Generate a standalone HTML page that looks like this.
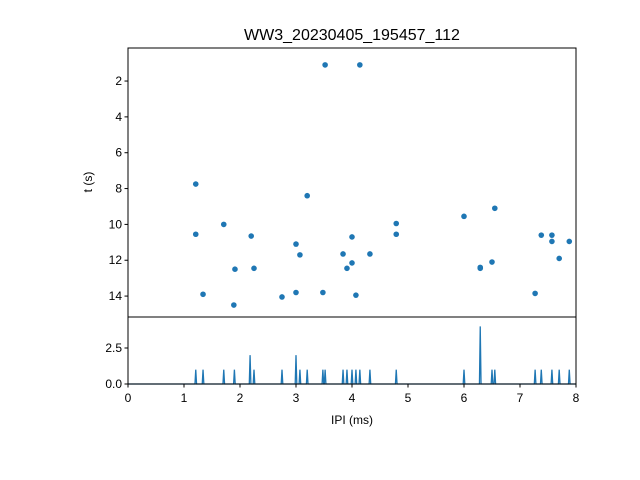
<!DOCTYPE html>
<html><head><meta charset="utf-8"><style>
body{margin:0;background:#fff;}
svg{display:block;font-family:"Liberation Sans","DejaVu Sans",sans-serif;}
</style></head><body>
<svg id="chart" width="640" height="480">
<rect width="640" height="480" fill="#fff"/>
<text x="352" y="40" font-size="16" text-anchor="middle">WW3_20230405_195457_112</text>
<g id="gtop"></g><g id="gbot"></g>
<text x="352" y="424" font-size="12" text-anchor="middle">IPI (ms)</text>
<text transform="translate(92,182) rotate(-90)" font-size="12" text-anchor="middle">t (s)</text>
</svg>
<script>
const ipi=[1.21,1.21,1.34,1.71,1.91,1.89,2.2,2.25,2.75,3.0,3.07,3.0,3.2,3.52,4.14,3.48,3.84,3.91,4.0,4.0,4.07,4.32,4.79,4.79,6.0,6.29,6.29,6.5,6.55,7.27,7.38,7.57,7.57,7.7,7.88];
const times=[7.75,10.55,13.9,10.0,12.5,14.5,10.65,12.45,14.05,11.1,11.7,13.8,8.4,1.1,1.1,13.8,11.65,12.45,10.7,12.15,13.95,11.65,9.95,10.55,9.55,12.4,12.45,12.1,9.1,13.85,10.6,10.6,10.95,11.9,10.95];
const peakX=[1.21,1.34,1.71,1.9,2.18,2.25,2.75,3.0,3.07,3.2,3.48,3.52,3.84,3.91,4.0,4.07,4.14,4.32,4.79,6.0,6.29,6.5,6.55,7.27,7.38,7.57,7.7,7.88];
const peakCount=[1,1,1,1,2,1,1,2,1,1,1,1,1,1,1,1,1,1,1,1,4,1,1,1,1,1,1,1];
const xTicks=[0,1,2,3,4,5,6,7,8];
const tTicks=[2,4,6,8,10,12,14];
const hTicks=[0,2.5];
const NS="http://www.w3.org/2000/svg";
const L=128,R=576,T1=48,B1=317,T2=317,B2=384;
const xs=v=>L+v*(R-L)/8;
const ts=v=>45.2+v*17.92;
const hs=v=>B2-v*14.4;
function mk(p,tag,a){const e=document.createElementNS(NS,tag);for(const k in a)e.setAttribute(k,a[k]);p.appendChild(e);return e;}
const gTop=document.getElementById('gtop'),gBot=document.getElementById('gbot');
ipi.forEach((v,i)=>{const c=mk(gTop,'circle',{cx:xs(v),cy:ts(times[i]),r:2.8,fill:'#1f77b4'});

});
let d='M'+L+','+B2;
peakX.forEach((v,i)=>{const x=xs(v);d+=' L'+(x-0.8)+','+B2+' L'+x+','+hs(peakCount[i])+' L'+(x+0.8)+','+B2;});
d+=' L'+R+','+B2;
const hp=mk(gBot,'path',{d:d,fill:'none',stroke:'#1f77b4','stroke-width':1.3});


const f1=mk(gTop,'rect',{x:L,y:T1,width:R-L,height:B1-T1,fill:'none',stroke:'#000','stroke-width':1});


const f2=mk(gBot,'rect',{x:L,y:T2,width:R-L,height:B2-T2,fill:'none',stroke:'#000','stroke-width':1});


tTicks.forEach(v=>{const y=ts(v);mk(gTop,'line',{x1:L-3.5,x2:L,y1:y,y2:y,stroke:'#000'});
const t=mk(gTop,'text',{x:L-6,y:y+4,'font-size':12,'text-anchor':'end'});t.textContent=v;

});
hTicks.forEach(v=>{const y=hs(v);mk(gBot,'line',{x1:L-3.5,x2:L,y1:y,y2:y,stroke:'#000'});
const t=mk(gBot,'text',{x:L-6,y:y+4,'font-size':12,'text-anchor':'end'});t.textContent=v.toFixed(1);

});
xTicks.forEach(v=>{const x=xs(v);mk(gBot,'line',{x1:x,x2:x,y1:B2,y2:B2+3.5,stroke:'#000'});
const t=mk(gBot,'text',{x:x,y:B2+18,'font-size':12,'text-anchor':'middle'});t.textContent=v;

});
</script>
</body></html>
